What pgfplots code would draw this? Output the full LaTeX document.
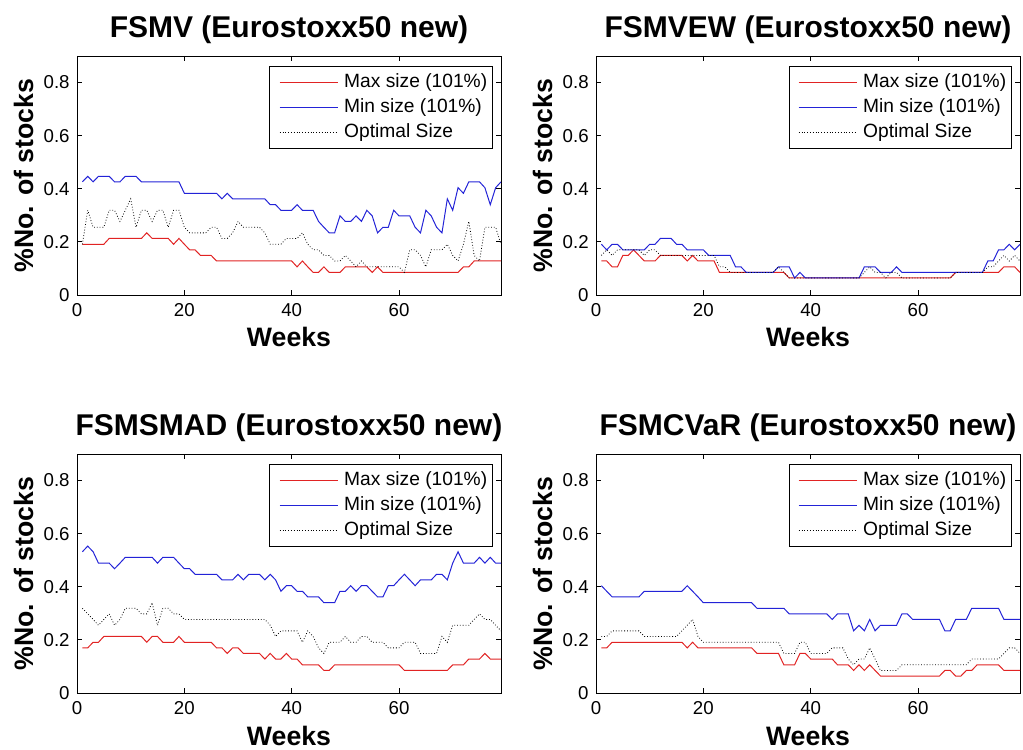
\documentclass[border=0pt]{standalone}
\usepackage{fontspec}
\setmainfont{Liberation Sans}
\usepackage{pgfplots}
\usepackage{pgfplotstable}
\pgfplotsset{compat=1.18}

\definecolor{maxred}{RGB}{225,35,35}
\definecolor{minblue}{RGB}{35,35,215}

% Share of stocks held, per week: max size, min size, optimal size
\pgfplotstableread{
w mx mn op
1 .191 .426 .191
2 .191 .447 .319
3 .191 .426 .255
4 .191 .447 .255
5 .191 .447 .255
6 .213 .447 .319
7 .213 .426 .319
8 .213 .426 .277
9 .213 .447 .319
10 .213 .447 .362
11 .213 .447 .255
12 .213 .426 .319
13 .234 .426 .319
14 .213 .426 .277
15 .213 .426 .319
16 .213 .426 .319
17 .213 .426 .255
18 .191 .426 .319
19 .213 .426 .319
20 .191 .383 .255
21 .170 .383 .234
22 .170 .383 .234
23 .149 .383 .234
24 .149 .383 .234
25 .149 .383 .255
26 .128 .383 .255
27 .128 .362 .213
28 .128 .383 .213
29 .128 .362 .234
30 .128 .362 .277
31 .128 .362 .255
32 .128 .362 .255
33 .128 .362 .255
34 .128 .362 .255
35 .128 .362 .234
36 .128 .340 .191
37 .128 .340 .191
38 .128 .319 .191
39 .128 .319 .213
40 .128 .319 .213
41 .106 .340 .213
42 .128 .319 .234
43 .106 .319 .191
44 .085 .319 .170
45 .085 .277 .170
46 .106 .255 .149
47 .085 .234 .149
48 .085 .234 .128
49 .085 .298 .128
50 .106 .277 .149
51 .106 .277 .128
52 .106 .298 .106
53 .106 .277 .128
54 .106 .319 .106
55 .085 .298 .106
56 .106 .234 .106
57 .085 .255 .106
58 .085 .255 .106
59 .085 .319 .106
60 .085 .298 .106
61 .085 .298 .085
62 .085 .298 .170
63 .085 .255 .170
64 .085 .234 .149
65 .085 .319 .106
66 .085 .298 .170
67 .085 .255 .170
68 .085 .234 .170
69 .085 .362 .191
70 .085 .319 .149
71 .085 .404 .128
72 .106 .383 .191
73 .106 .426 .277
74 .128 .426 .149
75 .128 .426 .128
76 .128 .404 .255
77 .128 .340 .255
78 .128 .404 .255
79 .128 .426 .191
}\fsmv

\pgfplotstableread{
w mx mn op
1 .128 .191 .149
2 .128 .170 .170
3 .106 .191 .149
4 .106 .191 .170
5 .149 .170 .170
6 .149 .170 .170
7 .170 .170 .170
8 .149 .170 .170
9 .128 .170 .149
10 .128 .191 .170
11 .128 .191 .170
12 .149 .213 .149
13 .149 .213 .149
14 .149 .213 .149
15 .149 .191 .149
16 .149 .191 .149
17 .128 .170 .149
18 .149 .170 .149
19 .128 .170 .149
20 .128 .170 .149
21 .128 .149 .149
22 .128 .149 .149
23 .085 .149 .106
24 .085 .149 .106
25 .085 .149 .085
26 .085 .106 .085
27 .085 .106 .085
28 .085 .085 .085
29 .085 .085 .085
30 .085 .085 .085
31 .085 .085 .085
32 .085 .085 .085
33 .085 .085 .085
34 .085 .106 .106
35 .085 .106 .085
36 .064 .106 .064
37 .064 .064 .064
38 .064 .085 .064
39 .064 .064 .064
40 .064 .064 .064
41 .064 .064 .064
42 .064 .064 .064
43 .064 .064 .064
44 .064 .064 .064
45 .064 .064 .064
46 .064 .064 .064
47 .064 .064 .064
48 .064 .064 .064
49 .064 .064 .064
50 .064 .106 .085
51 .064 .106 .106
52 .064 .106 .085
53 .064 .085 .085
54 .064 .085 .064
55 .064 .085 .085
56 .064 .106 .085
57 .064 .085 .064
58 .064 .085 .064
59 .064 .085 .064
60 .064 .085 .064
61 .064 .085 .064
62 .064 .085 .064
63 .064 .085 .064
64 .064 .085 .064
65 .064 .085 .064
66 .064 .085 .064
67 .085 .085 .085
68 .085 .085 .085
69 .085 .085 .085
70 .085 .085 .085
71 .085 .085 .085
72 .085 .085 .085
73 .085 .128 .106
74 .085 .128 .106
75 .085 .170 .128
76 .106 .170 .149
77 .106 .191 .128
78 .106 .170 .149
79 .085 .191 .128
}\fsmvew

\pgfplotstableread{
w mx mn op
1 .170 .532 .319
2 .170 .553 .298
3 .191 .532 .277
4 .191 .489 .255
5 .213 .489 .277
6 .213 .489 .298
7 .213 .468 .255
8 .213 .489 .277
9 .213 .511 .319
10 .213 .511 .319
11 .213 .511 .319
12 .213 .511 .298
13 .191 .511 .298
14 .213 .511 .340
15 .213 .489 .255
16 .191 .511 .319
17 .191 .511 .319
18 .191 .511 .298
19 .213 .489 .298
20 .191 .468 .277
21 .191 .468 .277
22 .191 .447 .277
23 .191 .447 .277
24 .191 .447 .277
25 .191 .447 .277
26 .170 .447 .277
27 .170 .426 .277
28 .149 .426 .277
29 .170 .426 .277
30 .170 .447 .277
31 .149 .426 .277
32 .149 .447 .277
33 .149 .447 .277
34 .149 .447 .277
35 .128 .426 .277
36 .149 .447 .255
37 .128 .426 .213
38 .128 .383 .234
39 .149 .404 .234
40 .128 .404 .234
41 .128 .383 .234
42 .106 .383 .191
43 .106 .362 .234
44 .106 .362 .213
45 .106 .362 .170
46 .085 .340 .149
47 .085 .340 .191
48 .106 .340 .191
49 .106 .383 .191
50 .106 .383 .213
51 .106 .404 .191
52 .106 .383 .191
53 .106 .404 .213
54 .106 .404 .213
55 .106 .383 .191
56 .106 .362 .191
57 .106 .362 .191
58 .106 .404 .170
59 .106 .404 .170
60 .106 .426 .170
61 .085 .447 .191
62 .085 .426 .191
63 .085 .404 .191
64 .085 .426 .149
65 .085 .426 .149
66 .085 .426 .149
67 .085 .447 .149
68 .085 .447 .213
69 .085 .426 .191
70 .106 .489 .255
71 .106 .532 .255
72 .106 .489 .255
73 .128 .489 .255
74 .128 .489 .277
75 .128 .511 .298
76 .149 .489 .277
77 .128 .511 .277
78 .128 .489 .255
79 .128 .489 .234
}\fsmsmad

\pgfplotstableread{
w mx mn op
1 .170 .404 .213
2 .170 .383 .213
3 .191 .362 .234
4 .191 .362 .234
5 .191 .362 .234
6 .191 .362 .234
7 .191 .362 .234
8 .191 .362 .234
9 .191 .383 .213
10 .191 .383 .213
11 .191 .383 .213
12 .191 .383 .213
13 .191 .383 .213
14 .191 .383 .213
15 .191 .383 .213
16 .191 .383 .234
17 .170 .404 .255
18 .191 .383 .277
19 .170 .362 .213
20 .170 .340 .191
21 .170 .340 .191
22 .170 .340 .191
23 .170 .340 .191
24 .170 .340 .191
25 .170 .340 .191
26 .170 .340 .191
27 .170 .340 .191
28 .170 .340 .191
29 .170 .340 .191
30 .149 .319 .191
31 .149 .319 .191
32 .149 .319 .191
33 .149 .319 .191
34 .149 .319 .191
35 .106 .319 .149
36 .106 .298 .149
37 .106 .298 .149
38 .149 .298 .191
39 .149 .298 .191
40 .128 .298 .149
41 .128 .298 .149
42 .128 .298 .149
43 .128 .298 .149
44 .128 .277 .170
45 .106 .298 .170
46 .106 .298 .170
47 .106 .298 .128
48 .085 .234 .106
49 .106 .255 .128
50 .085 .234 .128
51 .106 .277 .170
52 .085 .234 .128
53 .064 .255 .085
54 .064 .255 .085
55 .064 .255 .085
56 .064 .255 .085
57 .064 .298 .106
58 .064 .298 .106
59 .064 .277 .106
60 .064 .277 .106
61 .064 .277 .106
62 .064 .277 .106
63 .064 .277 .106
64 .064 .277 .106
65 .085 .234 .106
66 .085 .234 .106
67 .064 .277 .106
68 .064 .277 .106
69 .085 .277 .106
70 .085 .319 .128
71 .106 .319 .128
72 .106 .319 .128
73 .106 .319 .128
74 .106 .319 .128
75 .106 .319 .128
76 .085 .277 .149
77 .085 .277 .170
78 .085 .277 .170
79 .085 .277 .149
}\fsmcvar

\pgfplotsset{
  panel/.style={
    scale only axis, width=318pt, height=179.25pt,
    xmin=0, xmax=79, ymin=0, ymax=0.9,
    xtick={0,20,40,60}, xticklabels={0,20,40,60},
    ytick={0,0.2,0.4,0.6,0.8}, yticklabels={0,0.2,0.4,0.6,0.8},
    tick align=inside, major tick length=3.75pt,
    axis line style={line width=0.6pt},
    every tick/.style={black, line width=0.6pt},
    tick label style={font=\fontsize{14}{16}\selectfont},
    xticklabel style={anchor=base, yshift=-16.5pt},
    yticklabel style={xshift=-2pt},
    title style={at={(axis description cs:0.5,1.042)}, anchor=base,
      font=\bfseries\fontsize{22.5}{27}\selectfont},
    xlabel={Weeks},
    xlabel style={at={(axis description cs:0.5,-0.2176)}, anchor=base,
      font=\bfseries\fontsize{20}{24}\selectfont},
    ylabel={\%No. of stocks},
    ylabel style={at={(axis description cs:-0.1035,0.5)}, anchor=base,
      font=\bfseries\fontsize{20}{24}\selectfont},
    legend cell align=left,
    legend image code/.code={%
      \draw[##1] (4pt,0pt) -- (47.5pt,0pt);
      \path (0pt,0pt) (51pt,0pt);},
    legend style={at={(axis description cs:0.981,0.958)}, anchor=north east,
      draw=black, line width=0.6pt, fill=white,
      font=\fontsize{14.4}{17}\selectfont,
      inner xsep=3pt, inner ysep=2.5pt, row sep=0pt,
      nodes={inner xsep=1pt, inner ysep=2.2pt, text height=11pt, text depth=3.3pt}},
  },
  maxline/.style={maxred, line width=0.75pt},
  minline/.style={minblue, line width=0.75pt},
  optline/.style={black, line width=0.6pt, dash pattern=on 0.6pt off 1.5pt},
}

\newcommand{\threelines}[1]{%
  \addplot[maxline] table[x=w, y=mx] {#1};
  \addplot[minline] table[x=w, y=mn] {#1};
  \addplot[optline] table[x=w, y=op] {#1};
  \legend{Max size (101\%), Min size (101\%), Optimal Size}
}

\begin{document}
\begin{tikzpicture}
\path (0pt,0pt) rectangle (767.25pt,-561.75pt);

\begin{axis}[panel, at={(57.75pt,-42pt)}, anchor=north west,
  title={FSMV (Eurostoxx50 new)}]
\threelines{\fsmv}
\end{axis}

\begin{axis}[panel, at={(447pt,-42pt)}, anchor=north west,
  title={FSMVEW (Eurostoxx50 new)}]
\threelines{\fsmvew}
\end{axis}

\begin{axis}[panel, at={(57.75pt,-340.5pt)}, anchor=north west,
  title={FSMSMAD (Eurostoxx50 new)}]
\threelines{\fsmsmad}
\end{axis}

\begin{axis}[panel, at={(447pt,-340.5pt)}, anchor=north west,
  title={FSMCVaR (Eurostoxx50 new)}]
\threelines{\fsmcvar}
\end{axis}
\end{tikzpicture}
\end{document}
